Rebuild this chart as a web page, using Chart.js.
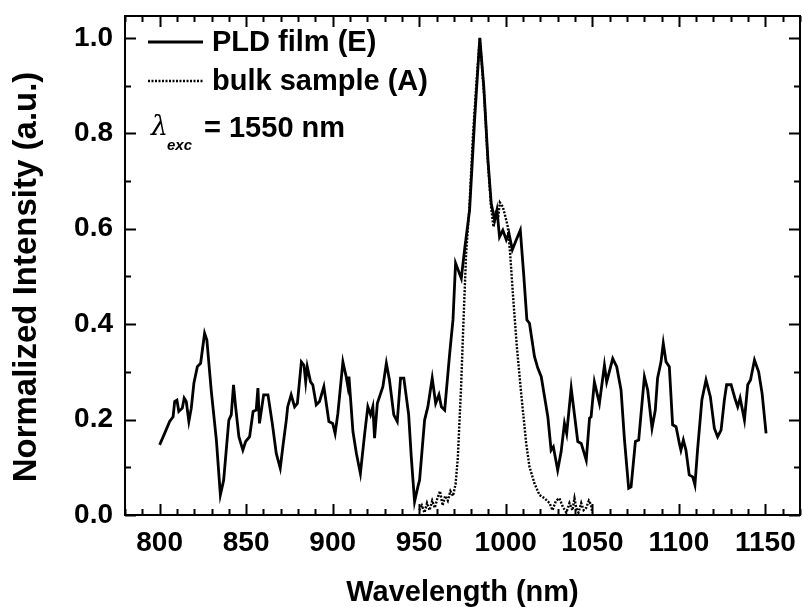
<!DOCTYPE html>
<html>
<head>
<meta charset="utf-8">
<script src="https://cdn.jsdelivr.net/npm/chart.js@4.4.1/dist/chart.umd.min.js"></script>
<style>
    html, body { margin: 0; padding: 0; background: #fff; }
    #wrap { width: 802px; height: 607px; }
</style>
</head>
<body>
<div id="wrap"><canvas id="plChart"></canvas></div>
<script>
// PLD film (E) - solid line
const wavelengthPLD = [800, 802.9, 805.8, 807.8, 808.7, 810, 811.1, 813.1, 814.2, 815.4, 816.9, 818.3, 819.8, 821.8, 823.7, 826, 827.3, 829.8, 832.8, 835.1, 837,
    840, 841.4, 842.7, 843.9, 845.8, 848.1, 849.7, 852, 854, 855.8, 856.8, 857.7, 860.1, 862.6, 865.1, 867.4, 869.7, 871.2, 873.2,
    874, 876, 878, 879.6, 881.9, 883.4, 884.4, 885.3, 887.2, 888.5, 890.5, 892.4, 894.9, 897.8, 900, 901.4, 903, 905.9, 907.8, 908.8, 909.4,
    911.7, 913.7, 916, 918.5, 920.3, 921.9, 923.2, 924.2, 925.8, 929, 931, 932.8, 935.3, 937.3, 939.2, 941.1, 943.9, 945.4, 947.3, 949.2,
    950.2, 953.1, 955, 957.5, 959.5, 961.4, 962.8, 964.7, 967.6, 969.5, 971, 974.3, 976.2, 979.1, 982, 985,
    987.3, 989.7, 991.6, 993.6, 994.9, 996.4, 998.3, 1000.3, 1001.8, 1003.8, 1006.1, 1008.4, 1010.3, 1012.2, 1013.7,
    1016.6, 1018.5, 1020.5, 1022.4, 1024.3, 1026.2, 1027.5, 1030, 1032, 1033.9, 1035.2, 1037.8, 1041.6, 1043.6, 1046.5, 1048.4, 1049.3,
    1051.2, 1054.1, 1057, 1058.3, 1061.8, 1064.1, 1066.6, 1068.6, 1071, 1072.4, 1074.9, 1076.8, 1080.1, 1082, 1084.5, 1086.4, 1087.7,
    1089.7, 1091, 1092.6, 1094.5, 1096.4, 1098.4, 1100.3, 1101.2, 1102.6, 1104.1, 1106, 1108, 1109.3, 1110.8, 1113.3, 1115.7,
    1118.2, 1120.5, 1122.4, 1124.4, 1126.3, 1127.6, 1130.2, 1132.7, 1134, 1135.4, 1137.9, 1139.8, 1141.4, 1143.7, 1146.1, 1148.1, 1150.4];
const intensityPLD = [0.147, 0.171, 0.196, 0.206, 0.238, 0.241, 0.217, 0.224, 0.245, 0.238, 0.196, 0.224, 0.276, 0.311, 0.318, 0.381, 0.367, 0.262, 0.157, 0.042, 0.073,
    0.199, 0.210, 0.273, 0.227, 0.164, 0.136, 0.154, 0.164, 0.217, 0.220, 0.266, 0.192, 0.252, 0.252, 0.192, 0.129, 0.098, 0.143, 0.199,
    0.227, 0.252, 0.227, 0.234, 0.321, 0.314, 0.279, 0.311, 0.279, 0.273, 0.231, 0.238, 0.269, 0.196, 0.192, 0.171, 0.213, 0.321, 0.290, 0.269, 0.290,
    0.175, 0.129, 0.087, 0.171, 0.227, 0.210, 0.227, 0.161, 0.234, 0.269, 0.318, 0.283, 0.210, 0.196, 0.287, 0.287, 0.210, 0.122, 0.028, 0.059,
    0.073, 0.199, 0.227, 0.287, 0.234, 0.252, 0.227, 0.220, 0.339, 0.409, 0.528, 0.496, 0.556, 0.639, 0.828, 1.0,
    0.898, 0.744, 0.653, 0.618, 0.639, 0.583, 0.597, 0.577, 0.591, 0.556, 0.577, 0.597, 0.507, 0.409, 0.402,
    0.332, 0.308, 0.290, 0.248, 0.206, 0.136, 0.143, 0.094, 0.133, 0.192, 0.171, 0.266, 0.154, 0.150, 0.115, 0.203, 0.206,
    0.279, 0.234, 0.314, 0.279, 0.328, 0.311, 0.262, 0.157, 0.056, 0.059, 0.154, 0.157, 0.290, 0.262, 0.182, 0.220, 0.287,
    0.321, 0.360, 0.321, 0.311, 0.189, 0.185, 0.150, 0.136, 0.157, 0.136, 0.084, 0.080, 0.063, 0.136, 0.241, 0.283,
    0.248, 0.182, 0.164, 0.178, 0.241, 0.273, 0.273, 0.241, 0.227, 0.245, 0.199, 0.273, 0.283, 0.325, 0.300, 0.255, 0.171];

// bulk sample (A) - dotted line
const wavelengthBulk = [950, 951.5, 953, 954.5, 956, 957.5, 959, 960.5, 962, 963.5, 965, 966.5, 968, 969.5, 971, 972.3, 973.3, 974.2, 975.6, 977.1, 979, 981, 982.9, 985,
    987.7, 989.6, 991.5, 992.9, 994.4, 995.5, 996.6, 998.3, 999.8, 1001.2, 1002.5, 1004.5, 1006.4, 1008.9, 1011.8, 1013.7, 1016.6, 1019.5, 1022.4, 1025.3,
    1027, 1029, 1031, 1033, 1035, 1036.8, 1038.5, 1039.7, 1040.7, 1042, 1043.6, 1045, 1046.5, 1048, 1049.3, 1050];
const intensityBulk = [0.01, 0.02, 0.005, 0.025, 0.01, 0.03, 0.015, 0.035, 0.05, 0.02, 0.04, 0.03, 0.05, 0.04, 0.065, 0.12, 0.2, 0.27, 0.409, 0.549, 0.646, 0.793, 0.898, 1.0,
    0.87, 0.744, 0.646, 0.604, 0.639, 0.62, 0.655, 0.646, 0.625, 0.604, 0.549, 0.444, 0.353, 0.255, 0.15, 0.101, 0.066, 0.042, 0.035, 0.025,
    0.01, 0.03, 0.035, 0.017, 0.005, 0.025, 0.01, 0.035, 0.015, 0.005, 0.025, 0.01, 0.015, 0.03, 0.021, 0.005];

const xTickLabels = [800, 850, 900, 950, 1000, 1050, 1100, 1150];
const yTickLabels = [0.0, 0.2, 0.4, 0.6, 0.8, 1.0];

function toPoints(xs, ys) {
    return xs.map((x, i) => ({x: x, y: ys[i]}));
}

// inward ticks on all 4 sides + frame + legend box + y title
const frameTicks = {
    id: 'frameTicks',
    afterDraw(chart) {
        const ctx = chart.ctx;
        const a = chart.chartArea;
        const xs = chart.scales.x, ys = chart.scales.y;
        ctx.save();
        ctx.strokeStyle = '#000';
        ctx.lineWidth = 2;
        ctx.strokeRect(a.left, a.top, a.right - a.left, a.bottom - a.top);
        ctx.beginPath();
        for (let v = 780; v <= 1170; v += 10) {
            const px = Math.round(xs.getPixelForValue(v)) + 0.5;
            const len = (v % 50 === 0) ? 11 : 6;
            ctx.moveTo(px, a.bottom); ctx.lineTo(px, a.bottom - len);
            ctx.moveTo(px, a.top); ctx.lineTo(px, a.top + len);
        }
        for (let k = 0; k <= 10; k++) {
            const py = Math.round(ys.getPixelForValue(k / 10)) + 0.5;
            const len = (k % 2 === 0) ? 11 : 6;
            ctx.moveTo(a.left, py); ctx.lineTo(a.left + len, py);
            ctx.moveTo(a.right, py); ctx.lineTo(a.right - len, py);
        }
        ctx.stroke();

        // legend
        ctx.lineWidth = 2.8;
        ctx.beginPath();
        ctx.moveTo(148, 42); ctx.lineTo(203, 42);
        ctx.stroke();
        ctx.lineWidth = 2.4;
        ctx.setLineDash([2, 1.5]);
        ctx.beginPath();
        ctx.moveTo(148, 81); ctx.lineTo(203, 81);
        ctx.stroke();
        ctx.setLineDash([]);

        ctx.fillStyle = '#000';
        ctx.textBaseline = 'middle';
        ctx.textAlign = 'left';
        ctx.font = 'bold 29px "Liberation Sans", Arial, sans-serif';
        ctx.fillText('PLD film (E)', 212, 43);
        ctx.fillText('bulk sample (A)', 212, 82);
        ctx.fillText('= 1550 nm', 204, 129);
        ctx.font = 'italic 27px "DejaVu Serif", serif';
        ctx.fillText('λ', 151, 128);
        ctx.font = 'italic bold 15px "Liberation Sans", Arial, sans-serif';
        ctx.fillText('exc', 167, 146);

        // y axis title
        ctx.translate(27, 277);
        ctx.rotate(-Math.PI / 2);
        ctx.textAlign = 'center';
        ctx.font = 'bold 33px "Liberation Sans", Arial, sans-serif';
        ctx.fillText('Normalized Intensity (a.u.)', 0, 0);
        ctx.restore();
    }
};

const ctx = document.getElementById('plChart').getContext('2d');
const plChart = new Chart(ctx, {
    type: 'line',
    data: {
        datasets: [{
            label: 'PLD film (E)',
            data: toPoints(wavelengthPLD, intensityPLD),
            borderColor: '#000',
            borderWidth: 2.8,
            pointRadius: 0,
            tension: 0,
            fill: false
        }, {
            label: 'bulk sample (A)',
            data: toPoints(wavelengthBulk, intensityBulk),
            borderColor: '#000',
            borderWidth: 2.4,
            borderDash: [2, 1.5],
            pointRadius: 0,
            tension: 0,
            fill: false
        }]
    },
    options: {
        responsive: true,
        maintainAspectRatio: false,
        animation: false,
        layout: {padding: {top: 16, right: 2, left: 0, bottom: 0}},
        plugins: {legend: {display: false}, tooltip: {enabled: false}},
        scales: {
            x: {
                type: 'linear',
                min: 780,
                max: 1170,
                grid: {display: false, drawTicks: false},
                border: {display: false},
                afterBuildTicks: (scale) => { scale.ticks = xTickLabels.map(v => ({value: v})); },
                afterFit: (scale) => {
                    scale.height = 92;
                    scale.paddingLeft = 0; scale.paddingRight = 0;
                },
                ticks: {
                    color: '#000',
                    padding: 11,
                    maxRotation: 0,
                    callback: (v) => String(v),
                    font: {family: '"Liberation Sans", Arial, sans-serif', size: 28, weight: 'bold'}
                },
                title: {
                    display: true,
                    text: 'Wavelength (nm)',
                    color: '#000',
                    padding: 0,
                    font: {family: '"Liberation Sans", Arial, sans-serif', size: 29, weight: 'bold', lineHeight: 1}
                }
            },
            y: {
                min: 0,
                max: 1.046,
                grid: {display: false, drawTicks: false},
                border: {display: false},
                afterBuildTicks: (scale) => { scale.ticks = yTickLabels.map(v => ({value: v})); },
                afterFit: (scale) => {
                    scale.width = 125;
                    scale.paddingTop = 0; scale.paddingBottom = 0;
                },
                ticks: {
                    color: '#000',
                    padding: 12,
                    callback: (v) => Number(v).toFixed(1),
                    font: {family: '"Liberation Sans", Arial, sans-serif', size: 28, weight: 'bold'}
                },
                title: {display: false}
            }
        }
    },
    plugins: [frameTicks]
});
</script>
</body>
</html>
